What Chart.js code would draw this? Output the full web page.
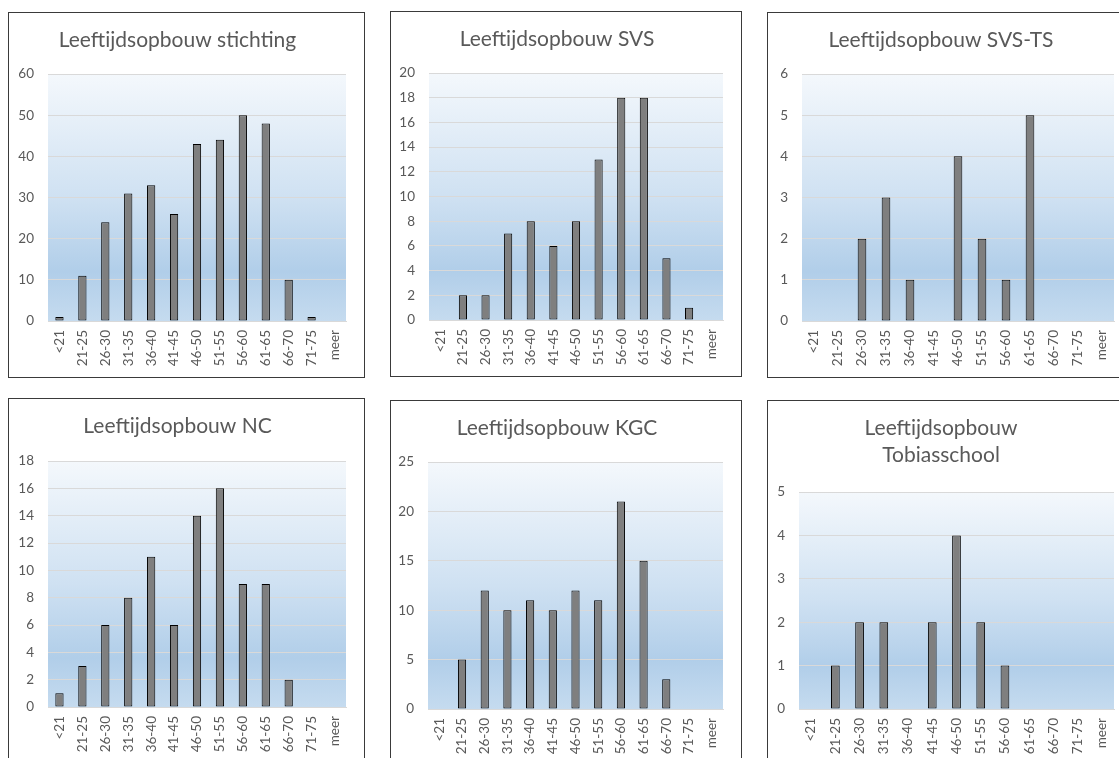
<!DOCTYPE html>
<html>
<head>
<meta charset="utf-8">
<script src="https://cdn.jsdelivr.net/npm/chart.js@4/dist/chart.umd.min.js"></script>
<style>
  body { margin: 0; background: #fff; width: 1119px; height: 758px; overflow: hidden; position: relative; }
  .panel { position: absolute; border: 1px solid #3a3a3a; background: #fff; }
  .panel canvas { display: block; }
</style>
</head>
<body>
<script>
// leeftijdsklassen
const ageGroups = ['<21', '21-25', '26-30', '31-35', '36-40', '41-45', '46-50', '51-55', '56-60', '61-65', '66-70', '71-75', 'meer'];

// aantallen per locatie
const stichtingValues = [1, 11, 24, 31, 33, 26, 43, 44, 50, 48, 10, 1, 0];
const svsValues = [0, 2, 2, 7, 8, 6, 8, 13, 18, 18, 5, 1, 0];
const svsTsValues = [0, 0, 2, 3, 1, 0, 4, 2, 1, 5, 0, 0, 0];
const ncValues = [1, 3, 6, 8, 11, 6, 14, 16, 9, 9, 2, 0, 0];
const kgcValues = [0, 5, 12, 10, 11, 10, 12, 11, 21, 15, 3, 0, 0];
const tobiasValues = [0, 1, 2, 2, 0, 2, 4, 2, 1, 0, 0, 0, 0];

// y-as per grafiek
const stichtingAxis = { max: 60, step: 10 };
const svsAxis = { max: 20, step: 2 };
const svsTsAxis = { max: 6, step: 1 };
const ncAxis = { max: 18, step: 2 };
const kgcAxis = { max: 25, step: 5 };
const tobiasAxis = { max: 5, step: 1 };

const panels = [
    { title: 'Leeftijdsopbouw stichting', data: stichtingValues, axis: stichtingAxis, box: [8, 12], yWidth: 39, plotTop: 61 },
    { title: 'Leeftijdsopbouw SVS', data: svsValues, axis: svsAxis, box: [390, 11], yWidth: 38, plotTop: 61 },
    { title: 'Leeftijdsopbouw SVS-TS', data: svsTsValues, axis: svsTsAxis, box: [767, 12], yWidth: 34, plotTop: 61 },
    { title: 'Leeftijdsopbouw NC', data: ncValues, axis: ncAxis, box: [8, 398], yWidth: 39, plotTop: 62 },
    { title: 'Leeftijdsopbouw KGC', data: kgcValues, axis: kgcAxis, box: [390, 400], yWidth: 37, plotTop: 61 },
    { title: ['Leeftijdsopbouw', 'Tobiasschool'], data: tobiasValues, axis: tobiasAxis, box: [767, 400], yWidth: 31, plotTop: 91 },
];

const boxW = [357, 352, 366];
const boxH = 366;
const textColor = '#595959';
const fontFamily = 'Lato, "Open Sans", sans-serif';

const plotBackground = {
    id: 'plotBackground',
    beforeDraw(chart) {
        const { ctx, chartArea } = chart;
        const g = ctx.createLinearGradient(0, chartArea.top, 0, chartArea.bottom);
        g.addColorStop(0, '#f4f8fc');
        g.addColorStop(0.5, '#cfe1f2');
        g.addColorStop(0.8, '#b1cee9');
        g.addColorStop(1, '#c5dbef');
        ctx.save();
        ctx.fillStyle = g;
        ctx.fillRect(chartArea.left, chartArea.top, chartArea.right - chartArea.left, chartArea.bottom - chartArea.top);
        ctx.restore();
    }
};

panels.forEach((p, i) => {
    const div = document.createElement('div');
    div.className = 'panel';
    const w = boxW[i % 3];
    div.style.left = p.box[0] + 'px';
    div.style.top = p.box[1] + 'px';
    div.style.width = (w - 2) + 'px';
    div.style.height = (boxH - 2) + 'px';
    const canvas = document.createElement('canvas');
    canvas.width = w - 2;
    canvas.height = boxH - 2;
    canvas.style.width = (w - 2) + 'px';
    canvas.style.height = (boxH - 2) + 'px';
    div.appendChild(canvas);
    document.body.appendChild(div);

    const lines = Array.isArray(p.title) ? p.title.length : 1;
    const lh = 27;
    const padTop = 13.5;
    const padBottom = p.plotTop - padTop - lines * lh;

    new Chart(canvas, {
        type: 'bar',
        data: {
            labels: ageGroups,
            datasets: [{
                data: p.data,
                backgroundColor: '#7f7f7f',
                borderColor: '#000000',
                borderWidth: 1,
                borderSkipped: false,
                barPercentage: 0.36,
                categoryPercentage: 1,
            }],
        },
        options: {
            responsive: false,
            animation: false,
            devicePixelRatio: 1,
            layout: { padding: { top: 0, left: 0, right: 18, bottom: 0 } },
            plugins: {
                legend: { display: false },
                tooltip: { enabled: false },
                title: {
                    display: true,
                    text: p.title,
                    color: textColor,
                    font: { family: fontFamily, size: 21, weight: 'normal', lineHeight: lh / 21 },
                    padding: { top: padTop, bottom: padBottom },
                },
            },
            scales: {
                x: {
                    grid: { display: false, drawTicks: false },
                    border: { display: true, color: '#d9d9d9' },
                    ticks: {
                        color: textColor,
                        font: { family: fontFamily, size: 13.5 },
                        minRotation: 90,
                        maxRotation: 90,
                        autoSkip: false,
                        padding: 9,
                    },
                    afterFit(scale) { scale.height = 56; },
                },
                y: {
                    min: 0,
                    max: p.axis.max,
                    grid: { color: '#d9d9d9', drawTicks: false },
                    border: { display: false },
                    ticks: {
                        stepSize: p.axis.step,
                        color: textColor,
                        font: { family: fontFamily, size: 13.5 },
                        padding: 14,
                    },
                    afterFit(scale) { scale.width = p.yWidth; },
                },
            },
        },
        plugins: [plotBackground],
    });
});
</script>
</body>
</html>
